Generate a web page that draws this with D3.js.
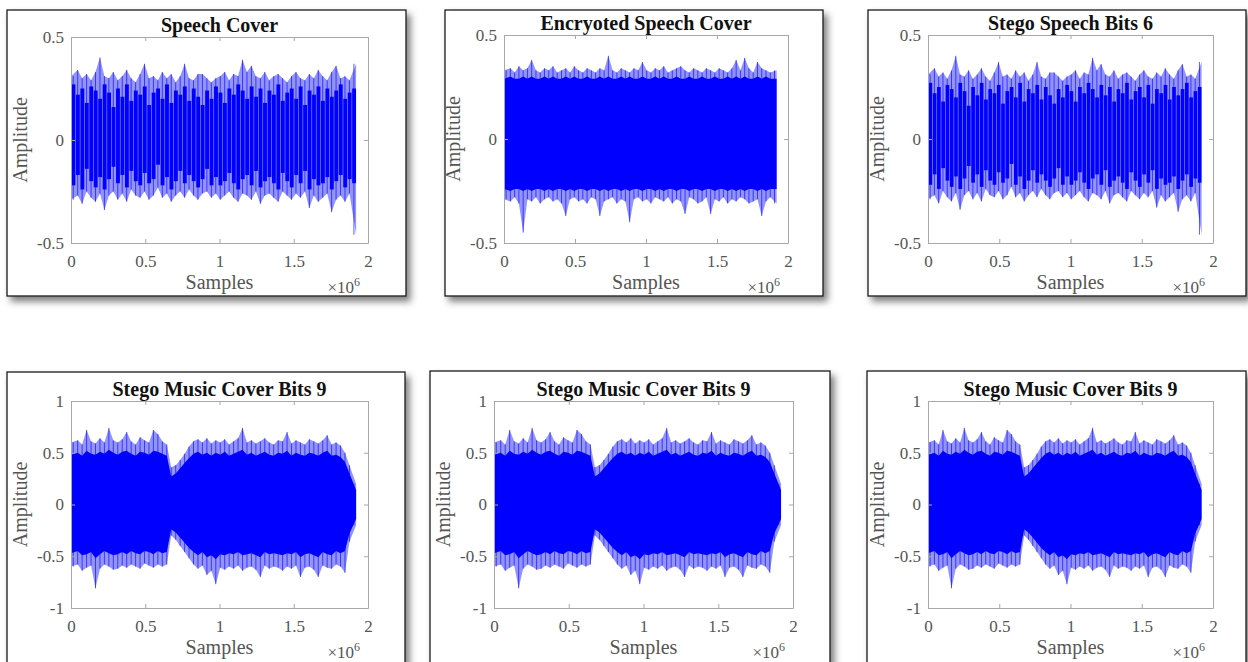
<!DOCTYPE html>
<html>
<head>
<meta charset="utf-8">
<script src="https://cdn.jsdelivr.net/npm/d3@7"></script>
<style>
body { margin: 0; background: #fff; }
svg { display: block; font-family: "Liberation Serif", "Times New Roman", serif; }
</style>
</head>
<body>
<div id="main-container"></div>
<script>
// DATA: waveform envelopes, one value per bin of 30,000 samples (0 .. 1.92e6)
const binSize = 30000;

// speech cover (also used by the stego speech plot, which looks the same)
const speechHi = [0.31,0.34,0.30,0.32,0.29,0.33,0.40,0.31, 0.30,0.33,0.29,0.31,0.34,0.30,0.28,0.32,
                  0.37,0.30,0.31,0.29,0.33,0.30,0.32,0.28, 0.31,0.37,0.30,0.29,0.32,0.32,0.30,0.28,
                  0.30,0.31,0.33,0.29,0.32,0.31,0.39,0.33, 0.36,0.31,0.30,0.33,0.29,0.31,0.32,0.30,
                  0.28,0.31,0.33,0.30,0.29,0.32,0.30,0.34, 0.31,0.29,0.33,0.36,0.30,0.31,0.29,0.37];
const speechLo = [-0.29,-0.27,-0.31,-0.25,-0.28,-0.30,-0.26,-0.34, -0.27,-0.25,-0.29,-0.26,-0.30,-0.24,-0.27,-0.28,
                  -0.25,-0.29,-0.27,-0.23,-0.28,-0.26,-0.30,-0.27, -0.25,-0.28,-0.24,-0.27,-0.29,-0.26,-0.25,-0.28,
                  -0.26,-0.29,-0.27,-0.25,-0.28,-0.30,-0.26,-0.27, -0.29,-0.25,-0.31,-0.27,-0.26,-0.28,-0.30,-0.25,
                  -0.27,-0.29,-0.26,-0.28,-0.25,-0.33,-0.27,-0.30, -0.28,-0.26,-0.35,-0.29,-0.27,-0.30,-0.26,-0.46];
const speechCoreHi = [0.27,0.22,0.25,0.18,0.26,0.24,0.20,0.27, 0.23,0.16,0.25,0.21,0.27,0.19,0.24,0.22,
                      0.26,0.17,0.23,0.25,0.20,0.27,0.18,0.24, 0.22,0.26,0.19,0.25,0.21,0.17,0.24,0.20,
                      0.26,0.23,0.18,0.25,0.22,0.27,0.24,0.20, 0.26,0.21,0.25,0.18,0.24,0.22,0.27,0.19,
                      0.23,0.25,0.20,0.26,0.17,0.24,0.22,0.26, 0.19,0.25,0.21,0.24,0.27,0.20,0.23,0.25];
const speechCoreLo = [-0.22,-0.17,-0.24,-0.14,-0.20,-0.23,-0.18,-0.24, -0.19,-0.13,-0.21,-0.17,-0.23,-0.15,-0.20,-0.22,
                      -0.16,-0.21,-0.19,-0.12,-0.22,-0.18,-0.24,-0.20, -0.15,-0.21,-0.17,-0.20,-0.23,-0.19,-0.14,-0.22,
                      -0.18,-0.22,-0.20,-0.16,-0.21,-0.24,-0.19,-0.17, -0.22,-0.15,-0.23,-0.20,-0.18,-0.21,-0.24,-0.16,
                      -0.20,-0.23,-0.17,-0.21,-0.15,-0.24,-0.19,-0.22, -0.21,-0.18,-0.24,-0.20,-0.17,-0.23,-0.19,-0.21];

// encrypted speech cover
const encHi = [0.33,0.34,0.32,0.35,0.33,0.34,0.38,0.33, 0.32,0.34,0.33,0.35,0.32,0.33,0.34,0.32,
               0.35,0.33,0.32,0.34,0.33,0.32,0.34,0.33, 0.40,0.33,0.32,0.34,0.33,0.32,0.34,0.33,
               0.37,0.33,0.32,0.34,0.33,0.35,0.32,0.33, 0.34,0.35,0.33,0.32,0.34,0.33,0.32,0.34,
               0.33,0.32,0.34,0.33,0.32,0.34,0.38,0.33, 0.39,0.34,0.32,0.37,0.34,0.33,0.32,0.33];
const encLo = [-0.29,-0.30,-0.28,-0.31,-0.45,-0.29,-0.30,-0.28, -0.31,-0.29,-0.28,-0.30,-0.29,-0.31,-0.37,-0.29,
               -0.28,-0.30,-0.29,-0.31,-0.28,-0.29,-0.37,-0.30, -0.29,-0.28,-0.31,-0.29,-0.30,-0.40,-0.29,-0.28,
               -0.30,-0.29,-0.31,-0.28,-0.29,-0.30,-0.28,-0.31, -0.29,-0.30,-0.36,-0.28,-0.29,-0.31,-0.30,-0.28,
               -0.36,-0.29,-0.30,-0.28,-0.31,-0.29,-0.30,-0.28, -0.29,-0.31,-0.30,-0.29,-0.37,-0.30,-0.28,-0.31];
const encCoreHi = [0.29,0.30,0.29,0.29,0.30,0.29,0.30,0.29, 0.29,0.30,0.29,0.30,0.29,0.29,0.30,0.29,
                   0.30,0.29,0.29,0.30,0.29,0.29,0.30,0.29, 0.30,0.29,0.29,0.30,0.29,0.30,0.29,0.29,
                   0.30,0.29,0.29,0.30,0.29,0.30,0.29,0.29, 0.30,0.29,0.29,0.30,0.29,0.29,0.30,0.29,
                   0.29,0.30,0.29,0.29,0.30,0.29,0.30,0.29, 0.30,0.29,0.29,0.30,0.29,0.30,0.29,0.29];
const encCoreLo = [-0.24,-0.25,-0.24,-0.24,-0.25,-0.24,-0.25,-0.24, -0.24,-0.25,-0.24,-0.25,-0.24,-0.24,-0.25,-0.24,
                   -0.25,-0.24,-0.24,-0.25,-0.24,-0.24,-0.25,-0.24, -0.25,-0.24,-0.24,-0.25,-0.24,-0.25,-0.24,-0.24,
                   -0.25,-0.24,-0.24,-0.25,-0.24,-0.25,-0.24,-0.24, -0.25,-0.24,-0.24,-0.25,-0.24,-0.24,-0.25,-0.24,
                   -0.24,-0.25,-0.24,-0.24,-0.25,-0.24,-0.25,-0.24, -0.25,-0.24,-0.24,-0.25,-0.24,-0.25,-0.24,-0.24];

// stego music cover (three identical-looking plots)
const musicHi = [0.60,0.62,0.58,0.72,0.61,0.59,0.64,0.60, 0.74,0.62,0.60,0.63,0.70,0.61,0.58,0.65,
                 0.62,0.60,0.72,0.68,0.61,0.58,0.36,0.38, 0.43,0.49,0.56,0.61,0.63,0.60,0.64,0.59,
                 0.62,0.60,0.63,0.58,0.61,0.64,0.74,0.60, 0.62,0.59,0.61,0.64,0.60,0.58,0.62,0.61,
                 0.70,0.59,0.62,0.60,0.58,0.63,0.61,0.59, 0.62,0.67,0.58,0.60,0.57,0.50,0.38,0.20];
const musicLo = [-0.60,-0.58,-0.64,-0.61,-0.59,-0.81,-0.62,-0.58, -0.60,-0.63,-0.62,-0.59,-0.61,-0.58,-0.60,-0.62,
                 -0.57,-0.59,-0.61,-0.58,-0.60,-0.58,-0.30,-0.34, -0.40,-0.46,-0.52,-0.58,-0.62,-0.59,-0.68,-0.64,
                 -0.77,-0.61,-0.63,-0.60,-0.62,-0.59,-0.64,-0.61, -0.60,-0.63,-0.70,-0.59,-0.62,-0.60,-0.61,-0.64,
                 -0.60,-0.62,-0.59,-0.70,-0.61,-0.60,-0.63,-0.70, -0.59,-0.61,-0.62,-0.58,-0.60,-0.66,-0.36,-0.20];
const musicCoreHi = [0.48,0.50,0.47,0.52,0.49,0.48,0.51,0.49, 0.53,0.50,0.48,0.51,0.52,0.49,0.47,0.51,
                     0.50,0.48,0.52,0.51,0.49,0.47,0.27,0.30, 0.35,0.40,0.45,0.49,0.51,0.48,0.50,0.47,
                     0.50,0.48,0.51,0.47,0.49,0.51,0.53,0.48, 0.50,0.47,0.49,0.51,0.48,0.47,0.50,0.49,
                     0.52,0.47,0.50,0.48,0.47,0.50,0.49,0.47, 0.50,0.52,0.47,0.48,0.46,0.41,0.30,0.14];
const musicCoreLo = [-0.47,-0.45,-0.49,-0.48,-0.46,-0.52,-0.48,-0.45, -0.47,-0.49,-0.48,-0.46,-0.48,-0.45,-0.47,-0.48,
                     -0.45,-0.46,-0.48,-0.45,-0.47,-0.46,-0.24,-0.27, -0.32,-0.37,-0.42,-0.46,-0.49,-0.46,-0.51,-0.49,
                     -0.53,-0.48,-0.49,-0.47,-0.48,-0.46,-0.49,-0.48, -0.47,-0.49,-0.51,-0.46,-0.48,-0.47,-0.48,-0.49,
                     -0.47,-0.48,-0.46,-0.51,-0.48,-0.47,-0.49,-0.51, -0.46,-0.48,-0.49,-0.45,-0.47,-0.45,-0.28,-0.14];

const titles = ["Speech Cover", "Encryoted Speech Cover", "Stego Speech Bits 6",
                "Stego Music Cover Bits 9", "Stego Music Cover Bits 9", "Stego Music Cover Bits 9"];
const xTicks = [0, 0.5e6, 1e6, 1.5e6, 2e6];
const speechYTicks = [-0.5, 0, 0.5];
const musicYTicks = [-1, -0.5, 0, 0.5, 1];

const waves = {
    speech: {hi: speechHi, lo: speechLo, coreHi: speechCoreHi, coreLo: speechCoreLo, streaks: true},
    enc: {hi: encHi, lo: encLo, coreHi: encCoreHi, coreLo: encCoreLo, streaks: false},
    music: {hi: musicHi, lo: musicLo, coreHi: musicCoreHi, coreLo: musicCoreLo, streaks: false}
};

// LAYOUT: frame box and plot area [x0, y0, x1, y1] of each panel
const panels = [
    {box: [7, 10, 406, 296],    plot: [71, 37, 368, 243],   wave: "speech", yDomain: [-0.5, 0.5], yTicks: speechYTicks},
    {box: [445, 10, 823, 296],  plot: [504, 35, 788, 243],  wave: "enc",    yDomain: [-0.5, 0.5], yTicks: speechYTicks},
    {box: [868, 10, 1246, 296], plot: [928, 35, 1213, 243], wave: "speech", yDomain: [-0.5, 0.5], yTicks: speechYTicks},
    {box: [7, 372, 405, 690],   plot: [71, 401, 368, 608],  wave: "music",  yDomain: [-1, 1],     yTicks: musicYTicks},
    {box: [430, 371, 830, 690], plot: [494, 401, 793, 608], wave: "music",  yDomain: [-1, 1],     yTicks: musicYTicks},
    {box: [867, 371, 1246, 690],plot: [928, 401, 1213, 608],wave: "music",  yDomain: [-1, 1],     yTicks: musicYTicks}
];

const blue = "#0000ff";
const textGrey = "#555";

let svg = d3.select("#main-container")
    .append("svg")
        .attr("width", 1248)
        .attr("height", 662);

svg.append("defs")
    .append("filter")
        .attr("id", "shadow")
        .attr("x", "-5%").attr("y", "-5%")
        .attr("width", "115%").attr("height", "115%")
    .append("feDropShadow")
        .attr("dx", 4).attr("dy", 5)
        .attr("stdDeviation", 3.5)
        .attr("flood-color", "#000")
        .attr("flood-opacity", 0.5);

function drawPanel(p, k) {
    const [bx0, by0, bx1, by1] = p.box;
    const [px0, py0, px1, py1] = p.plot;

    // frame with shadow
    svg.append("rect")
        .attr("x", bx0).attr("y", by0)
        .attr("width", bx1 - bx0).attr("height", by1 - by0)
        .attr("fill", "#fff")
        .attr("stroke", "#1a1a1a")
        .attr("stroke-width", 1.3)
        .attr("filter", "url(#shadow)");

    let x = d3.scaleLinear().domain([0, 2e6]).range([px0, px1]);
    let y = d3.scaleLinear().domain(p.yDomain).range([py1, py0]);

    svg.append("clipPath")
        .attr("id", `clip${k}`)
        .append("rect")
            .attr("x", px0).attr("y", py0)
            .attr("width", px1 - px0).attr("height", py1 - py0);

    const w = waves[p.wave];
    const n = w.hi.length;
    const bins = w.hi.map((h, i) => ({
        s0: i * binSize, s1: (i + 1) * binSize,
        // envelope point: bin centre, first/last pinned to the signal ends
        s: i === 0 ? 0 : (i === n - 1 ? n * binSize : (i + 0.5) * binSize),
        hi: h, lo: w.lo[i], ch: w.coreHi[i], cl: w.coreLo[i]
    }));

    let g = svg.append("g").attr("clip-path", `url(#clip${k})`);

    // light outer envelope
    g.append("path")
        .datum(bins)
        .attr("d", d3.area().x((d) => x(d.s)).y0((d) => y(d.lo)).y1((d) => y(d.hi)))
        .attr("fill", blue)
        .attr("fill-opacity", 0.42);

    // dense core
    if (w.streaks) {
        g.selectAll(".core")
            .data(bins)
            .enter()
            .append("rect")
                .attr("x", (d) => x(d.s0) + 0.5)
                .attr("width", (d) => x(d.s1) - x(d.s0) - 0.6)
                .attr("y", (d) => y(d.ch))
                .attr("height", (d) => y(d.cl) - y(d.ch))
                .attr("fill", blue);
    } else {
        g.append("path")
            .datum(bins)
            .attr("d", d3.area().x((d) => x(d.s)).y0((d) => y(d.cl)).y1((d) => y(d.ch)))
            .attr("fill", blue);
    }

    // peak spikes
    g.selectAll(".spike")
        .data(bins)
        .enter()
        .append("line")
            .attr("x1", (d) => x((d.s0 + d.s1) / 2))
            .attr("x2", (d) => x((d.s0 + d.s1) / 2))
            .attr("y1", (d) => y(d.hi))
            .attr("y2", (d) => y(d.lo))
            .attr("stroke", blue)
            .attr("stroke-opacity", 0.7)
            .attr("stroke-width", 0.9);

    // axes, MATLAB style box with inward ticks
    const axisStyle = (sel) => {
        sel.selectAll(".domain").attr("stroke", "#a8a8a8");
        sel.selectAll(".tick line").attr("stroke", "#a8a8a8");
        sel.selectAll("text")
            .attr("fill", textGrey)
            .style("font-family", "'Liberation Serif', serif")
            .style("font-size", "17px");
    };

    svg.append("g")
        .attr("transform", `translate(0, ${py1})`)
        .call(d3.axisBottom(x).tickValues(xTicks).tickFormat((d) => d / 1e6)
            .tickSizeInner(-4).tickSizeOuter(0).tickPadding(12))
        .call(axisStyle);

    svg.append("g")
        .attr("transform", `translate(0, ${py0})`)
        .call(d3.axisTop(x).tickValues(xTicks).tickFormat("")
            .tickSizeInner(-4).tickSizeOuter(0))
        .call(axisStyle);

    svg.append("g")
        .attr("transform", `translate(${px0}, 0)`)
        .call(d3.axisLeft(y).tickValues(p.yTicks).tickFormat((d) => String(d))
            .tickSizeInner(-4).tickSizeOuter(0).tickPadding(7))
        .call(axisStyle);

    svg.append("g")
        .attr("transform", `translate(${px1}, 0)`)
        .call(d3.axisRight(y).tickValues(p.yTicks).tickFormat("")
            .tickSizeInner(-4).tickSizeOuter(0))
        .call(axisStyle);

    // title
    svg.append("text")
        .attr("x", (px0 + px1) / 2)
        .attr("y", py0 - 5)
        .attr("text-anchor", "middle")
        .attr("font-weight", "bold")
        .attr("font-size", 20)
        .attr("fill", "#111")
        .text(titles[k]);

    // axis labels
    svg.append("text")
        .attr("x", (px0 + px1) / 2)
        .attr("y", py1 + 46)
        .attr("text-anchor", "middle")
        .attr("font-size", 20)
        .attr("fill", textGrey)
        .text("Samples");

    svg.append("text")
        .attr("transform", `translate(${px0 - 44}, ${(py0 + py1) / 2}) rotate(-90)`)
        .attr("text-anchor", "middle")
        .attr("font-size", 20)
        .attr("fill", textGrey)
        .text("Amplitude");

    let mult = svg.append("text")
        .attr("x", px1 - 8)
        .attr("y", py1 + 50)
        .attr("text-anchor", "end")
        .attr("font-size", 17)
        .attr("fill", textGrey);
    mult.append("tspan").text("\u00d710");
    mult.append("tspan").attr("dy", -7).attr("font-size", 12).text("6");
}

panels.forEach((p, k) => drawPanel(p, k));
</script>
</body>
</html>
